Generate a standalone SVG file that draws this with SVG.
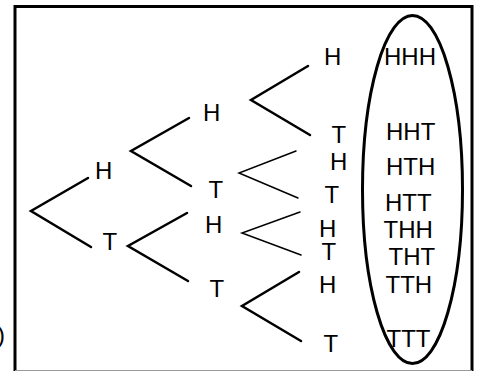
<svg xmlns="http://www.w3.org/2000/svg" width="479" height="371" viewBox="0 0 479 371">
<style>
text{font-family:"Liberation Sans",Arial,sans-serif;font-size:24px;fill:#000}
.e{fill:none;stroke:#000;stroke-width:2.5;stroke-linecap:round;stroke-linejoin:miter}
.t{fill:none;stroke:#000;stroke-width:1.5;stroke-linecap:round}
</style>
<rect width="479" height="371" fill="#fff"/>
<path d="M15,371 V6.5 H472 V371" fill="none" stroke="#000" stroke-width="3"/>
<line x1="15" y1="370.5" x2="472" y2="370.5" stroke="#999" stroke-width="1"/>
<text x="-3" y="343" font-size="30">)</text>
<g id="connectors">
<polyline class="e" points="88,178 31,211 91,247"/>
<polyline class="e" points="189,118 131,151 191,186"/>
<polyline class="e" points="187,213 128,246 188,281"/>
<polyline class="e" points="308,66 251,100 310,135"/>
<polyline class="t" points="296,151 239,173 298,198"/>
<polyline class="t" points="300,212 242,233 301,255"/>
<polyline class="e" points="299,272 242,306 301,341"/>
</g>
<g id="n1H"><text x="95" y="179">H</text></g>
<g id="n1T"><text x="102.5" y="250">T</text></g>
<g id="n2HH"><text x="203" y="120.5">H</text></g>
<g id="n2HT"><text x="208.5" y="198">T</text></g>
<g id="n2TH"><text x="205" y="233">H</text></g>
<g id="n2TT"><text x="209.5" y="297">T</text></g>
<g id="n3HHH"><text x="324" y="65">H</text></g>
<g id="n3HHT"><text x="331.5" y="143">T</text></g>
<g id="n3HTH"><text x="330" y="170">H</text></g>
<g id="n3HTT"><text x="324.5" y="203">T</text></g>
<g id="n3THH"><text x="319" y="237">H</text></g>
<g id="n3THT"><text x="321.5" y="260">T</text></g>
<g id="n3TTH"><text x="319" y="293">H</text></g>
<g id="n3TTT"><text x="323.5" y="352">T</text></g>
<g id="outcomes">
<text x="384" y="65">HHH</text>
<text x="386" y="140">HHT</text>
<text x="386" y="175">HTH</text>
<text x="385" y="211">HTT</text>
<text x="383.5" y="238">THH</text>
<text x="388.5" y="265">THT</text>
<text x="385.5" y="293">TTH</text>
<text x="386.5" y="347">TTT</text>
<ellipse cx="412.5" cy="189.5" rx="50" ry="174" fill="none" stroke="#000" stroke-width="3"/>
</g>
</svg>
